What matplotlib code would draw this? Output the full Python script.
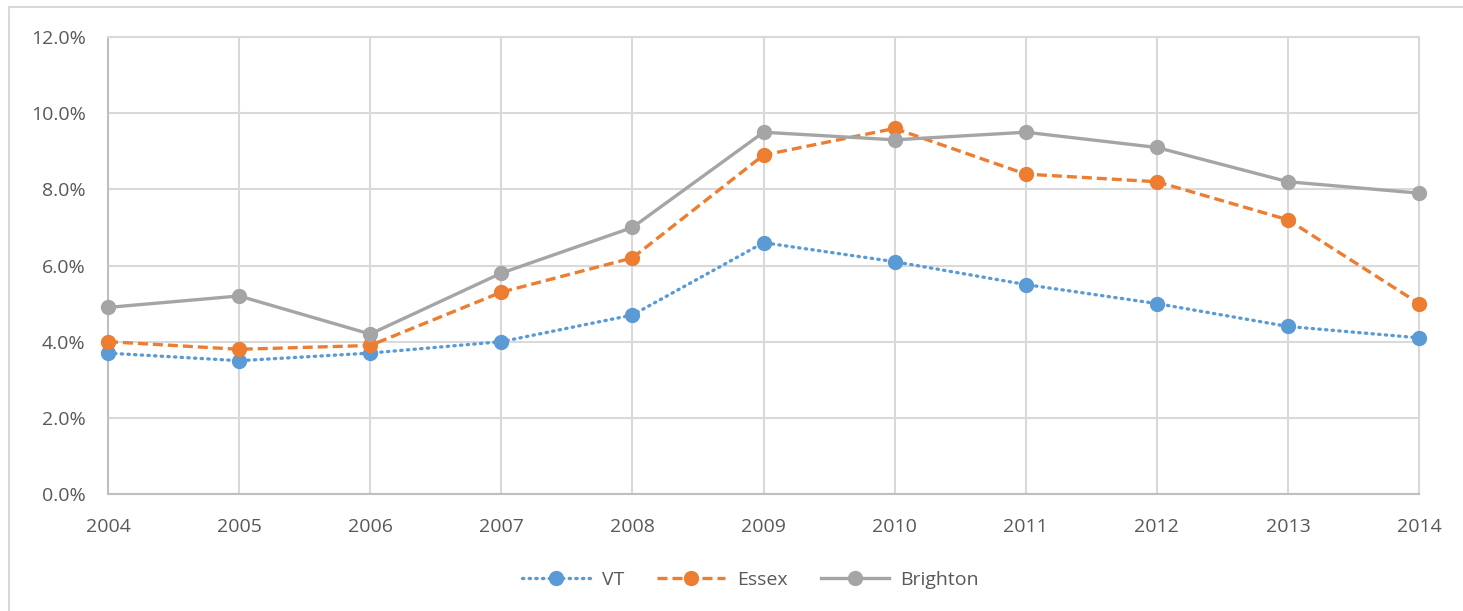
import matplotlib.pyplot as plt
from matplotlib.ticker import PercentFormatter

plt.rcParams["font.family"] = ["Open Sans", "DejaVu Sans"]

years = [2004, 2005, 2006, 2007, 2008, 2009, 2010, 2011, 2012, 2013, 2014]
vt = [3.7, 3.5, 3.7, 4.0, 4.7, 6.6, 6.1, 5.5, 5.0, 4.4, 4.1]
essex = [4.0, 3.8, 3.9, 5.3, 6.2, 8.9, 9.6, 8.4, 8.2, 7.2, 5.0]
brighton = [4.9, 5.2, 4.2, 5.8, 7.0, 9.5, 9.3, 9.5, 9.1, 8.2, 7.9]

grid_c = "#d9d9d9"
text_c = "#595959"

fig = plt.figure(figsize=(14.63, 6.11), dpi=100)
ax = fig.add_axes([0.0738, 0.1915, 0.8962, 0.7479])

# chart frame and the cut-off title above it
fig.add_artist(plt.Rectangle((9 / 1463, -0.01), 1.0, 1.01 - 7 / 611,
                             transform=fig.transFigure, fill=False,
                             edgecolor=grid_c, linewidth=1.5))
fig.text(10 / 1463, 1 + 6.5 / 611, "Unemployment Rate", fontsize=20,
         fontweight="bold", color="black", va="baseline", ha="left")

kw = dict(linewidth=2.4, marker="o", markersize=10, clip_on=False, zorder=3)
ax.plot(years, vt, color="#5B9BD5", linestyle=(0, (0.4, 1.6)),
        dash_capstyle="round", label="VT", **kw)
ax.plot(years, essex, color="#ED7D31", linestyle=(0, (3, 1.5)),
        label="Essex", **kw)
ax.plot(years, brighton, color="#A5A5A5", label="Brighton", **kw)

ax.set_xlim(2004, 2014)
ax.set_ylim(0, 12)
ax.set_xticks(years)
ax.set_yticks([0, 2, 4, 6, 8, 10, 12])
ax.yaxis.set_major_formatter(PercentFormatter(decimals=1))
ax.grid(True, color=grid_c, linewidth=1.5)
ax.set_axisbelow(True)
for side in ["top", "right"]:
    ax.spines[side].set_color(grid_c)
    ax.spines[side].set_linewidth(1.5)
for side in ["left", "bottom"]:
    ax.spines[side].set_color("#bfbfbf")
    ax.spines[side].set_linewidth(1.5)
ax.tick_params(length=0, labelsize=14, colors=text_c)
ax.tick_params(axis="x", pad=17)
ax.tick_params(axis="y", pad=16)

ax.legend(loc="upper center", bbox_to_anchor=(0.49, -0.13), ncol=3,
          frameon=False, fontsize=14, labelcolor=text_c, handlelength=3.5,
          columnspacing=1.7, handletextpad=0.6)

fig.savefig("out.png", dpi=100)
